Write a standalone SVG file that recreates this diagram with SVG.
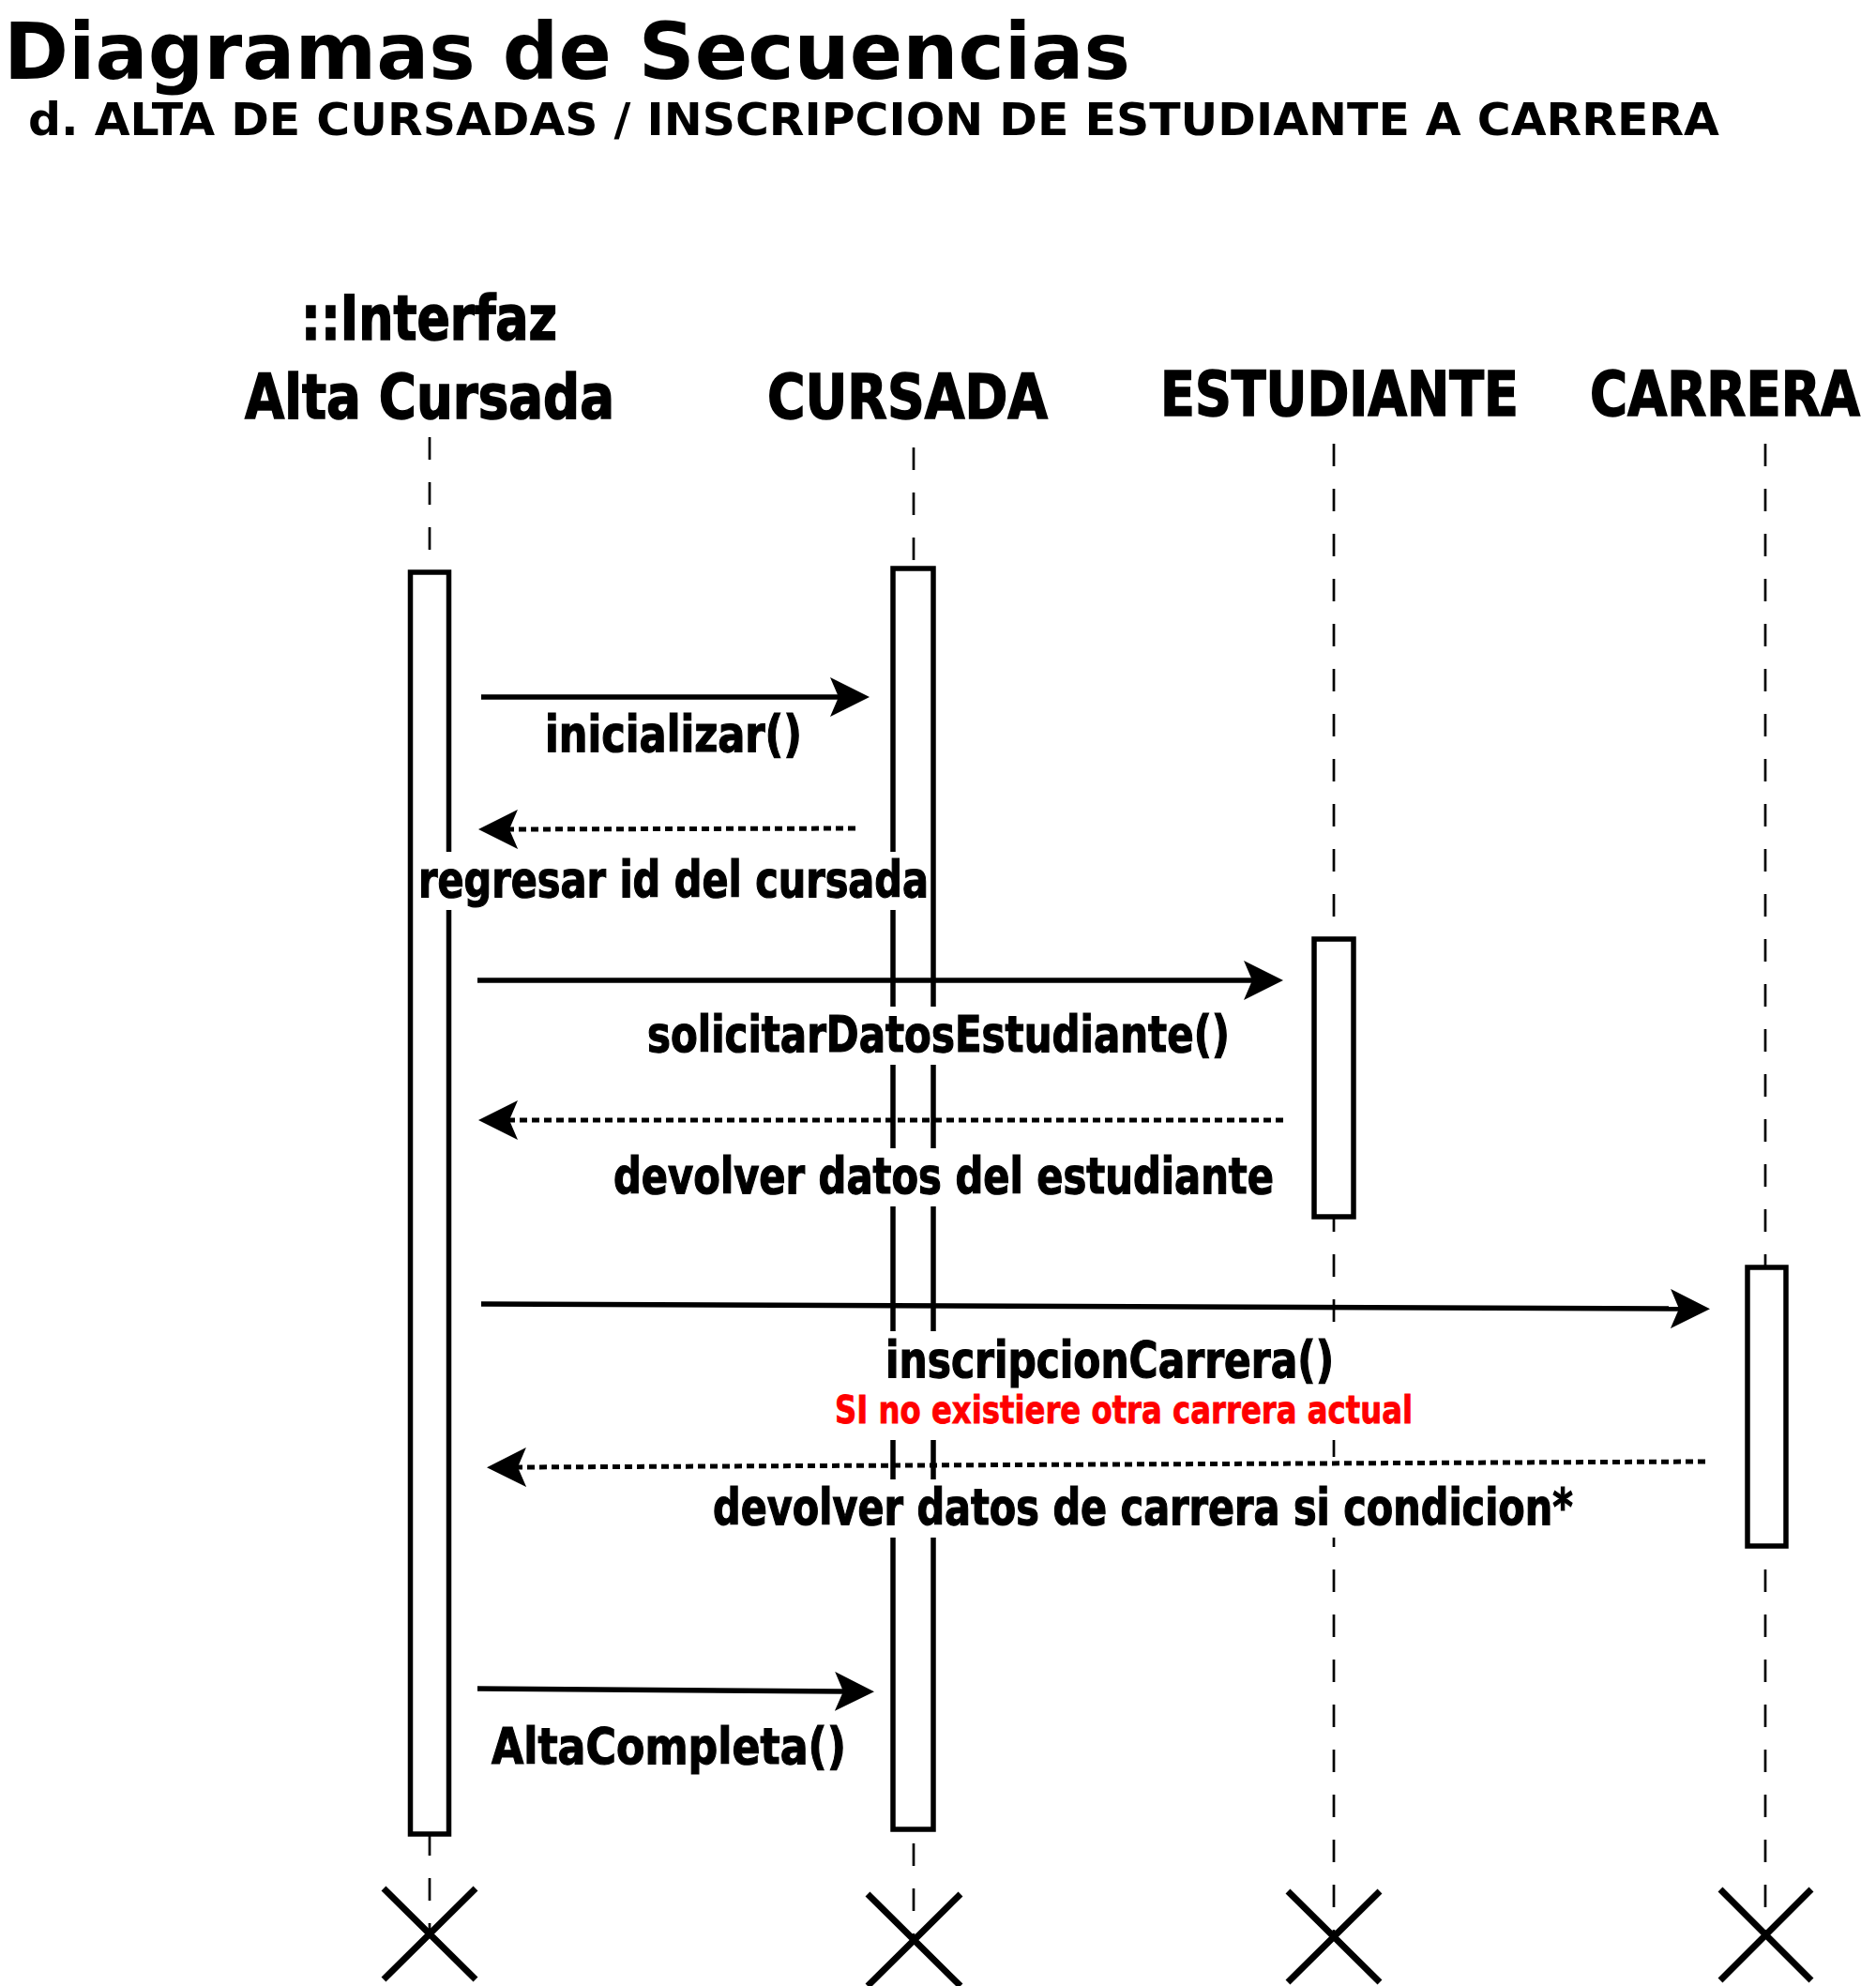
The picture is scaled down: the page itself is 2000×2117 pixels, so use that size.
<svg xmlns="http://www.w3.org/2000/svg" width="2000" height="2117" viewBox="0 0 2000 2117">
<style>
.title{font-family:"DejaVu Sans",Verdana,sans-serif;font-weight:bold;fill:#000}
.part{font-family:"Liberation Sans Narrow","DejaVu Sans Condensed","Liberation Sans",sans-serif;font-weight:bold;font-size:66px;fill:#000;stroke:#000;stroke-width:1.5}
.lbl{font-family:"Liberation Sans Narrow","DejaVu Sans Condensed","Liberation Sans",sans-serif;font-weight:bold;font-size:54px;fill:#000;stroke:#000;stroke-width:1.2}
.red{font-family:"Liberation Sans Narrow","DejaVu Sans Condensed","Liberation Sans",sans-serif;font-weight:bold;font-size:41px;fill:#ff0000;stroke:#ff0000;stroke-width:0.8}
.life{stroke:#000;stroke-width:2.7;stroke-dasharray:24 24;fill:none}
.act{fill:#fff;stroke:#000;stroke-width:5.5}
.msg{stroke:#000;stroke-width:5.5;fill:none;marker-end:url(#head)}
.ret{stroke:#000;stroke-width:5;stroke-dasharray:8 5;fill:none;marker-end:url(#head)}
.bg{fill:#fff}
.x{stroke:#000;stroke-width:7;fill:none}
</style>
<defs>
<marker id="head" markerUnits="userSpaceOnUse" viewBox="0 0 42 42" refX="9" refY="21" markerWidth="42" markerHeight="42" orient="auto">
<path d="M0,0 L42,21 L0,42 L9,21 Z" fill="#000"/>
</marker>
</defs>
<rect width="2000" height="2117" fill="#fff"/>
<g id="title">
<text class="title" x="4" y="84" font-size="84" textLength="1201" lengthAdjust="spacingAndGlyphs">Diagramas de Secuencias</text>
<text class="title" x="30" y="144" font-size="48.5" textLength="1803" lengthAdjust="spacingAndGlyphs">d. ALTA DE CURSADAS / INSCRIPCION DE ESTUDIANTE A CARRERA</text>
</g>
<g id="lifelines">
<line class="life" x1="458" y1="466" x2="458" y2="2060"/>
<line class="life" x1="974" y1="477" x2="974" y2="2065"/>
<line class="life" x1="1422" y1="473" x2="1422" y2="2062"/>
<line class="life" x1="1882" y1="473" x2="1882" y2="2060"/>
</g>
<g id="node-interfaz">
<text class="part" x="321" y="362" textLength="273" lengthAdjust="spacingAndGlyphs">::Interfaz</text>
<text class="part" x="261" y="446" textLength="394" lengthAdjust="spacingAndGlyphs">Alta Cursada</text>
<rect class="act" x="437.5" y="610" width="41" height="1345"/>
<path class="x" d="M409,2013 L507,2110 M507,2013 L409,2110"/>
</g>
<g id="node-cursada">
<text class="part" x="818" y="446" textLength="299" lengthAdjust="spacingAndGlyphs">CURSADA</text>
<rect class="act" x="952" y="606" width="43" height="1344"/>
<path class="x" d="M925,2019 L1024,2117 M1024,2019 L925,2117"/>
</g>
<g id="node-estudiante">
<text class="part" x="1237" y="443" textLength="382" lengthAdjust="spacingAndGlyphs">ESTUDIANTE</text>
<rect class="act" x="1401" y="1001" width="42" height="296"/>
<path class="x" d="M1373,2016 L1471,2113 M1471,2016 L1373,2113"/>
</g>
<g id="node-carrera">
<text class="part" x="1695" y="443" textLength="288" lengthAdjust="spacingAndGlyphs">CARRERA</text>
<rect class="act" x="1863" y="1351" width="41" height="297"/>
<path class="x" d="M1834,2014 L1931,2111 M1931,2014 L1834,2111"/>
</g>
<g id="connectors">
<line class="msg" x1="513" y1="743" x2="894" y2="743"/>
<line class="ret" x1="912" y1="883" x2="543" y2="884"/>
<line class="msg" x1="509" y1="1045" x2="1335" y2="1045"/>
<line class="ret" x1="1368" y1="1194" x2="543" y2="1194"/>
<line class="msg" x1="513" y1="1390" x2="1790" y2="1395"/>
<line class="ret" x1="1818" y1="1558" x2="552" y2="1564"/>
<line class="msg" x1="509" y1="1800" x2="899" y2="1803"/>
</g>
<g id="labels">
<rect class="bg" x="577" y="753" width="282" height="62"/>
<text class="lbl" x="581" y="801" textLength="274" lengthAdjust="spacingAndGlyphs">inicializar()</text>
<rect class="bg" x="444" y="908" width="548" height="62"/>
<text class="lbl" x="446" y="956" textLength="544" lengthAdjust="spacingAndGlyphs">regresar id del cursada</text>
<rect class="bg" x="686" y="1073" width="629" height="62"/>
<text class="lbl" x="690" y="1121" textLength="621" lengthAdjust="spacingAndGlyphs">solicitarDatosEstudiante()</text>
<rect class="bg" x="650" y="1224" width="712" height="62"/>
<text class="lbl" x="654" y="1272" textLength="704" lengthAdjust="spacingAndGlyphs">devolver datos del estudiante</text>
<rect class="bg" x="940" y="1419" width="485" height="64"/>
<text class="lbl" x="944" y="1468" textLength="478" lengthAdjust="spacingAndGlyphs">inscripcionCarrera()</text>
<rect class="bg" x="886" y="1483" width="624" height="52"/>
<text class="red" x="890" y="1517" textLength="616" lengthAdjust="spacingAndGlyphs">SI no existiere otra carrera actual</text>
<rect class="bg" x="756" y="1577" width="925" height="62"/>
<text class="lbl" x="760" y="1625" textLength="917" lengthAdjust="spacingAndGlyphs">devolver datos de carrera si condicion*</text>
<rect class="bg" x="520" y="1832" width="386" height="62"/>
<text class="lbl" x="524" y="1880" textLength="378" lengthAdjust="spacingAndGlyphs">AltaCompleta()</text>
</g>
</svg>
